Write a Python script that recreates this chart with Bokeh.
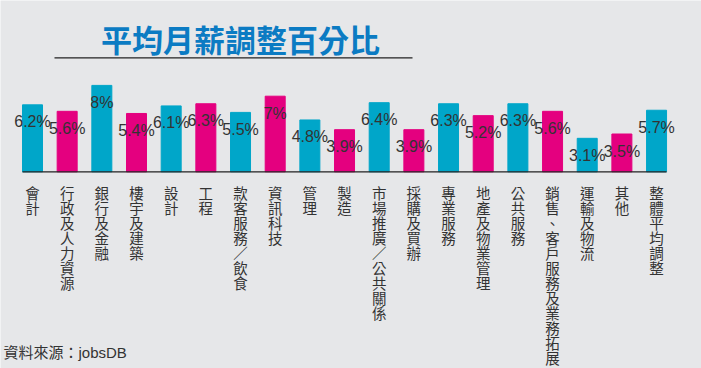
from bokeh.plotting import figure
from bokeh.models import Range1d, Label, BoxAnnotation, ColumnDataSource
from bokeh.core.properties import value
from bokeh.embed import file_html
from bokeh.resources import INLINE

# ---- data ----
categories = ["會計", "行政及人力資源", "銀行及金融", "樓宇及建築", "設計", "工程",
              "款客服務／飲食", "資訊科技", "管理", "製造", "市場推廣／公共關係",
              "採購及買辦", "專業服務", "地產及物業管理", "公共服務",
              "銷售、客戶服務及業務拓展", "運輸及物流", "其他", "整體平均調整"]
values = [6.2, 5.6, 8, 5.4, 6.1, 6.3, 5.5, 7, 4.8, 3.9, 6.4, 3.9, 6.3, 5.2, 6.3,
          5.6, 3.1, 3.5, 5.7]
title_text = "平均月薪調整百分比"
source_text = "資料來源：jobsDB"

CYAN = "#00a6c9"
MAGENTA = "#e4007f"
BG = "#e6e7e9"
TXT = "#333333"

W, H = 701, 368
n = len(categories)
pitch = 34.67          # px between bar centres
first = 32.0           # px from left to first bar centre
ppu = 10.8             # px per percent
base = 171.3           # px from top to baseline
char_pitch = 15.0      # vertical spacing of stacked label characters

xs = list(range(n))
colors = [CYAN if i % 2 == 0 else MAGENTA for i in xs]
vlabels = [f"{v:g}%" for v in values]

src = ColumnDataSource(dict(x=xs, top=values, color=colors, vl=vlabels))

# stacked (vertical) category label characters
cx, cy, coff, ch = [], [], [], []
for i, c in enumerate(categories):
    for k, letter in enumerate(c):
        cx.append(i)
        cy.append(0)
        coff.append(10 + k * char_pitch)
        ch.append(letter)
csrc = ColumnDataSource(dict(x=cx, y=cy, off=coff, ch=ch))

x_start = -first / pitch
p = figure(width=W, height=H, output_backend="svg", toolbar_location=None,
           x_axis_type=None, y_axis_type=None,
           x_range=Range1d(x_start, x_start + W / pitch),
           y_range=Range1d(-(H - base) / ppu, base / ppu),
           min_border=0, background_fill_color=BG, border_fill_color=BG,
           outline_line_color=None)
p.grid.visible = False

bw = 20 / pitch
p.vbar(x="x", top="top", bottom=0, width=bw, color="color", source=src)

# baseline
p.segment(x0=[xs[0] - bw / 2], x1=[xs[-1] + bw / 2], y0=[0], y1=[0],
          line_color="#222222", line_width=1.2)

# value labels
p.text(x="x", y="top", text="vl", source=src, text_align="center",
       text_baseline="middle", y_offset=17, text_color=TXT,
       text_font=value("Liberation Sans"), text_font_size="16px")

# category labels (vertical)
p.text(x="x", y="y", text="ch", y_offset="off", source=csrc, text_align="center",
       text_baseline="top", text_color=TXT,
       text_font=value("Noto Sans CJK TC"), text_font_size="14.5px")

# title
p.add_layout(Label(x=240, y=H - 37.5, x_units="screen", y_units="screen",
                   text=title_text, text_align="center", text_baseline="middle",
                   text_font="Noto Sans CJK TC", text_font_style="bold",
                   text_font_size="31px", text_color="#0b7bc3"))
p.add_layout(BoxAnnotation(left=54, right=412, bottom=H - 58, top=H - 56.8,
                           left_units="screen", right_units="screen",
                           bottom_units="screen", top_units="screen",
                           fill_color="#222222", fill_alpha=1, line_alpha=0))

# source
p.add_layout(Label(x=3, y=H - 351.7, x_units="screen", y_units="screen",
                   text=source_text, text_align="left", text_baseline="middle",
                   text_font="Liberation Sans, Noto Sans CJK TC",
                   text_font_size="15px", text_color=TXT))

open("out.html", "w").write(file_html(p, INLINE))
